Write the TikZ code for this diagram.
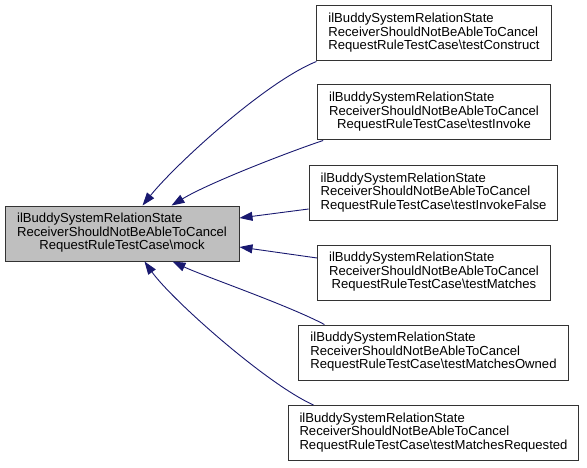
\documentclass[tikz,border=0pt]{standalone}
\usepackage{fontspec}
\setmainfont{Liberation Sans}
\usetikzlibrary{arrows.meta,calc}
\definecolor{midblue}{HTML}{191970}
\definecolor{mgray}{HTML}{BFBFBF}
\newcommand{\lbl}[3]{\begin{tabular}{@{}l@{}}#1\\#2\\\multicolumn{1}{@{}c@{}}{#3}\end{tabular}}
\tikzset{
  box/.style={draw=black!80, line width=1pt, fill=white, inner xsep=11.5pt, inner ysep=0pt,
    minimum height=55pt, font=\fontsize{13.1}{13.5}\selectfont},
  mainbox/.style={box, fill=mgray},
  edge/.style={draw=midblue, line width=0.9pt, -{Triangle[length=13pt,width=9pt]}}
}
\begin{document}
\begin{tikzpicture}[x=1pt,y=1pt]
\useasboundingbox (0,0) rectangle (587,467);
\node[mainbox, minimum width=234pt] (m) at (122,233.5) {\lbl{ilBuddySystemRelationState}{ReceiverShouldNotBeAbleToCancel}{RequestRuleTestCase\textbackslash mock}};
\node[box] (b1) at (434,433.5) {\lbl{ilBuddySystemRelationState}{ReceiverShouldNotBeAbleToCancel}{RequestRuleTestCase\textbackslash testConstruct}};
\node[box] (b2) at (434,354.5) {\lbl{ilBuddySystemRelationState}{ReceiverShouldNotBeAbleToCancel}{RequestRuleTestCase\textbackslash testInvoke}};
\node[box] (b3) at (433.5,274) {\lbl{ilBuddySystemRelationState}{ReceiverShouldNotBeAbleToCancel}{RequestRuleTestCase\textbackslash testInvokeFalse}};
\node[box] (b4) at (434,194.5) {\lbl{ilBuddySystemRelationState}{ReceiverShouldNotBeAbleToCancel}{RequestRuleTestCase\textbackslash testMatches}};
\node[box] (b5) at (433.5,114.5) {\lbl{ilBuddySystemRelationState}{ReceiverShouldNotBeAbleToCancel}{RequestRuleTestCase\textbackslash testMatchesOwned}};
\node[box] (b6) at (433.5,34) {\lbl{ilBuddySystemRelationState}{ReceiverShouldNotBeAbleToCancel}{RequestRuleTestCase\textbackslash testMatchesRequested}};
\draw[edge] (b1.south west) .. controls +(-52,-21) and +(32,40) .. ($(m.north west)+(138,0)$);
\draw[edge] ($(b2.south west)+(6,0)$) .. controls +(-33,-11) and +(38,23) .. ($(m.north west)+(167,0)$);
\draw[edge] ($(b3.west)+(0,-16)$) -- ($(m.east)+(0,15.5)$);
\draw[edge] ($(b4.west)+(0,14.5)$) -- ($(m.east)+(0,-13.5)$);
\draw[edge] ($(b5.north west)+(26,0)$) .. controls +(-38,20) and +(32,-15) .. ($(m.south west)+(168,0)$);
\draw[edge] ($(b6.north west)+(26,0)$) .. controls +(-47,21) and +(27,-38) .. ($(m.south west)+(140,0)$);
\end{tikzpicture}
\end{document}
